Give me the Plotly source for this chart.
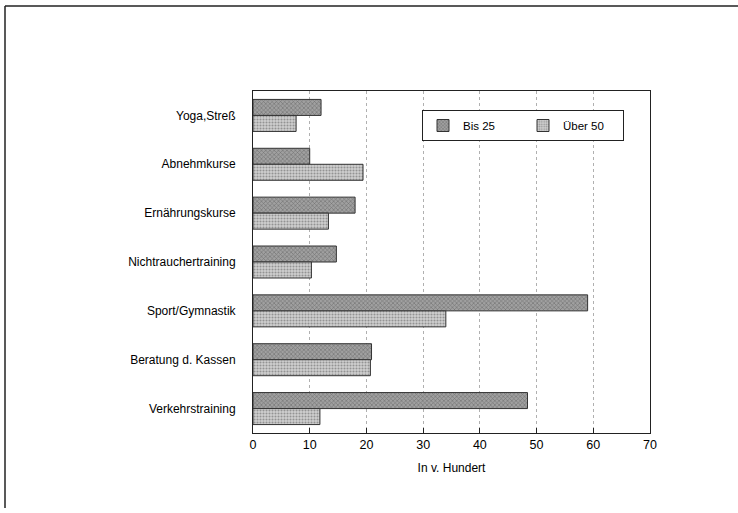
import plotly.graph_objects as go

categories = ["Yoga,Streß", "Abnehmkurse", "Ernährungskurse", "Nichtrauchertraining",
              "Sport/Gymnastik", "Beratung d. Kassen", "Verkehrstraining"]
bis25 = [12, 10, 18, 14.7, 59, 20.9, 48.4]
ueber50 = [7.6, 19.4, 13.3, 10.3, 34, 20.7, 11.8]
tick_vals = [0, 10, 20, 30, 40, 50, 60, 70]

W, H = 738, 513
L, R, T, B = 253, 650, 91, 433

fig = go.Figure()
fig.add_trace(go.Bar(
    y=categories, x=bis25, orientation="h", name="Bis 25",
    marker=dict(color="#999999", line=dict(color="#333333", width=1),
                pattern=dict(shape="x", fgcolor="#404040", bgcolor="#a0a0a0", size=3, solidity=0.35)),
))
fig.add_trace(go.Bar(
    y=categories, x=ueber50, orientation="h", name="Über 50",
    marker=dict(color="#c0c0c0", line=dict(color="#333333", width=1),
                pattern=dict(shape=".", fgcolor="#555555", bgcolor="#d0d0d0", size=3, solidity=0.4)),
))

fs = dict(family="Liberation Sans, Arial, sans-serif", color="#000000")
fig.update_layout(
    width=W, height=H,
    margin=dict(l=L, r=W - R, t=T, b=H - B, pad=0),
    paper_bgcolor="white", plot_bgcolor="white",
    barmode="group", bargap=0.345, bargroupgap=0,
    font=dict(size=12, **fs),
    legend=dict(orientation="h", x=(422 - L) / (R - L), y=(B - 110) / (B - T),
                xanchor="left", yanchor="top",
                bordercolor="#222222", borderwidth=1, bgcolor="white",
                font=dict(size=11.5, **fs), entrywidth=55, itemwidth=30),
    showlegend=True,
)
fig.update_xaxes(
    range=[0, 70], tickvals=tick_vals, ticktext=[str(v) for v in tick_vals],
    showgrid=True, gridcolor="#b0b0b0", griddash="dot", gridwidth=1,
    showline=True, linecolor="#222222", linewidth=1, mirror=True,
    ticks="inside", ticklen=5, tickcolor="#222222",
    zeroline=False,
    title=dict(text="In v. Hundert", font=dict(size=12, **fs), standoff=12),
    tickfont=dict(size=12.5, **fs),
)
fig.update_yaxes(
    autorange="reversed", categoryorder="array", categoryarray=categories,
    showline=True, linecolor="#222222", linewidth=1, mirror=True,
    ticks="", ticklabelstandoff=14,
    tickfont=dict(size=12, **fs),
)

# outer frame lines (top and left)
px = lambda x: (x - L) / (R - L)
py = lambda y: (B - y) / (B - T)
fig.add_shape(type="line", xref="paper", yref="paper", x0=px(5), x1=px(738), y0=py(6), y1=py(6),
              line=dict(color="#222222", width=1.5))
fig.add_shape(type="line", xref="paper", yref="paper", x0=px(5), x1=px(5), y0=py(6), y1=py(508),
              line=dict(color="#222222", width=1.5))

fig.write_html("out.html", config={"displayModeBar": False},
               post_script="document.body.style.margin='0';document.body.style.overflow='hidden';")
